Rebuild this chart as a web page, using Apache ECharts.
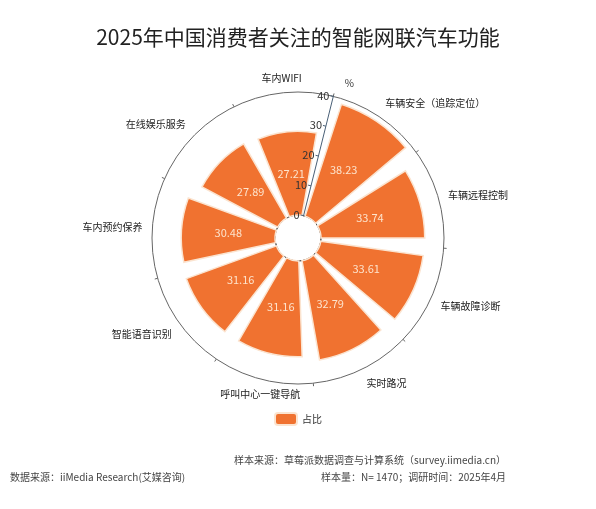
<!DOCTYPE html>
<html>
<head>
<meta charset="utf-8">
<style>
  html, body { margin: 0; padding: 0; background: #fff; }
  #main { width: 596px; height: 509px; }
</style>
<script src="https://cdn.jsdelivr.net/npm/echarts@6/dist/echarts.min.js"></script>
</head>
<body>
<div id="main"></div>
<script>
// 功能类别（顺时针）
var categories = ['车辆安全（追踪定位）', '车辆远程控制', '车辆故障诊断', '实时路况',
  '呼叫中心一键导航', '智能语音识别', '车内预约保养', '在线娱乐服务', '车内WIFI'];
// 占比 %
var shares = [38.23, 33.74, 33.61, 32.79, 31.16, 31.16, 30.48, 27.89, 27.21];
var radiusTicks = [0, 40, 10];  // min, max, interval

var font = '"Noto Sans CJK SC", sans-serif';
var myChart = echarts.init(document.getElementById('main'));

var option = {
  backgroundColor: '#fff',
  textStyle: { fontFamily: font },
  title: {
    text: '2025年中国消费者关注的智能网联汽车功能',
    left: 'center',
    top: 22,
    textStyle: { fontSize: 21, fontWeight: 'normal', color: '#222', fontFamily: font }
  },
  legend: {
    bottom: 78,
    left: 'center',
    itemWidth: 22,
    itemHeight: 12,
    icon: 'roundRect',
    textStyle: { fontSize: 10, color: '#333' },
    data: ['占比']
  },
  polar: [
    { center: [298, 238], radius: [23, 146] },
    { center: [298, 238], radius: [0, 23] }
  ],
  angleAxis: [{
    polarIndex: 0,
    type: 'category',
    data: categories,
    startAngle: 76,
    axisLine: { lineStyle: { color: '#666', width: 1 } },
    axisTick: { show: true, inside: false, length: 3, lineStyle: { color: '#666' } },
    axisLabel: { fontSize: 10, color: '#222', margin: 10 },
    splitLine: { show: false }
  }, {
    polarIndex: 1,
    type: 'value',
    min: 0,
    max: 1,
    axisLine: { lineStyle: { color: '#555', width: 1 } },
    axisTick: { show: false },
    axisLabel: { show: false },
    splitLine: { show: false }
  }],
  radiusAxis: [{
    polarIndex: 0,
    min: radiusTicks[0],
    max: radiusTicks[1],
    interval: radiusTicks[2],
    name: '%',
    nameLocation: 'end',
    nameGap: 14,
    nameTextStyle: { fontSize: 10, color: '#333', padding: [0, 0, 0, 8] },
    z: 5,
    axisLine: { lineStyle: { color: '#4a6077', width: 1 } },
    axisTick: { show: true, length: 3, lineStyle: { color: '#4a6077' } },
    axisLabel: { fontSize: 11, color: '#333', margin: 4 },
    splitLine: { show: false }
  }, {
    polarIndex: 1,
    min: 0,
    max: 1,
    show: false
  }],
  series: [{
    name: '占比',
    type: 'bar',
    coordinateSystem: 'polar',
    polarIndex: 0,
    data: shares,
    barCategoryGap: '20%',
    itemStyle: { color: '#f07230', borderColor: '#fbe4d0', borderWidth: 1.5 },
    label: {
      show: true,
      position: 'middle',
      rotate: 0,
      color: '#fde3cc',
      fontSize: 11
    }
  }],
  graphic: [{
    type: 'text', right: 90, top: 455,
    style: { text: '样本来源：草莓派数据调查与计算系统（survey.iimedia.cn）', fill: '#444', font: '10px ' + font }
  }, {
    type: 'text', right: 90, top: 472,
    style: { text: '样本量：N= 1470；调研时间：2025年4月', fill: '#444', font: '10px ' + font }
  }, {
    type: 'text', left: 10, top: 472,
    style: { text: '数据来源：iiMedia Research(艾媒咨询)', fill: '#444', font: '10px ' + font }
  }]
};

myChart.setOption(option);
</script>
</body>
</html>
